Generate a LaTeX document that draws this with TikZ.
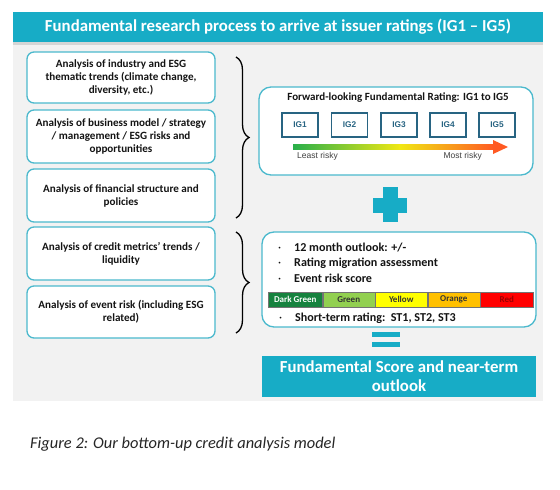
\documentclass[tikz,border=0pt]{standalone}
\usepackage{fontspec}
\setmainfont{Carlito}
\newfontfamily\arialf{Liberation Sans}
\usetikzlibrary{decorations.pathreplacing,shadows}
\definecolor{hdr}{RGB}{23,172,198}
\definecolor{bord}{RGB}{75,185,205}
\definecolor{bgg}{RGB}{242,242,242}
\definecolor{igb}{RGB}{40,100,130}
\definecolor{dkg}{RGB}{22,130,62}
\definecolor{lgr}{RGB}{146,208,80}
\definecolor{yel}{RGB}{255,255,0}
\definecolor{ora}{RGB}{255,192,0}
\definecolor{redc}{RGB}{255,0,0}
\definecolor{txt}{RGB}{20,20,20}
\definecolor{arrg}{RGB}{40,175,75}
\definecolor{arry}{RGB}{240,232,20}
\definecolor{arro}{RGB}{255,90,35}
\begin{document}
\begin{tikzpicture}[x=1pt,y=-1pt,
  lbox/.style={draw=bord, line width=1.3pt, rounded corners=7pt, fill=white,
    minimum width=188pt, align=center, inner sep=0pt, text=txt,
    font=\bfseries\fontsize{11.1}{13}\selectfont},
  rbox/.style={draw=bord, line width=1.3pt, rounded corners=12pt, fill=white,
    minimum width=274pt, inner sep=0pt},
  igbox/.style={draw=igb, line width=1.3pt, minimum width=36pt, minimum height=24pt,
    inner sep=0pt, text=igb, font=\arialf\bfseries\fontsize{8.3}{9}\selectfont},
  seg/.style={draw=black!55, line width=0.5pt, minimum height=15pt, inner sep=0pt,
    anchor=west, font=\bfseries\fontsize{9}{10}\selectfont},
  bul/.style={anchor=west, inner sep=0pt, text=txt,
    font=\bfseries\fontsize{12.1}{13}\selectfont},
  brc/.style={decorate, decoration={brace, amplitude=13pt}, line width=1.3pt},
  teal/.style={fill=hdr, draw=none}
]
\useasboundingbox (0,0) rectangle (560,490);
\fill[white] (0,0) rectangle (560,490);
\fill[bgg] (13,42) rectangle (543,401);

% header
\node[fill=hdr, minimum width=530pt, minimum height=30pt, inner sep=0pt, text=white,
  font=\bfseries\fontsize{16.8}{18}\selectfont,
  drop shadow={opacity=0.25, shadow xshift=0pt, shadow yshift=-3pt}]
  (hdr) at (278,27) {Fundamental research process to arrive at issuer ratings (IG1 – IG5)};

% left boxes
\node[lbox, minimum height=51pt] (a1) at (121,77.5) {Analysis of industry and ESG\\thematic trends (climate change,\\diversity, etc.)};
\node[lbox, minimum height=53pt] (a2) at (121,136.5) {Analysis of business model / strategy\\/ management / ESG risks and\\opportunities};
\node[lbox, minimum height=53pt] (a3) at (121,195.5) {Analysis of financial structure and\\policies};
\node[lbox, minimum height=53pt] (a4) at (121,253.5) {Analysis of credit metrics’ trends /\\liquidity};
\node[lbox, minimum height=52pt] (a5) at (121,312) {Analysis of event risk (including ESG\\related)};

% braces
\coordinate (b1t) at (236,57);
\coordinate (b1b) at (236,218);
\coordinate (b2t) at (236,232);
\coordinate (b2b) at (236,333);
\draw[brc] (b1t) -- (b1b);
\draw[brc] (b2t) -- (b2b);

% right box 1
\node[rbox, minimum height=88pt] (r1) at (396,131) {};
\node[inner sep=0pt, text=txt, font=\bfseries\fontsize{11}{12}\selectfont] (r1t) at (398,97.5) {Forward-looking Fundamental Rating: IG1 to IG5};
\node[igbox] (ig1) at (300,125) {IG1};
\node[igbox] (ig2) at (349.5,125) {IG2};
\node[igbox] (ig3) at (399,125) {IG3};
\node[igbox] (ig4) at (448,125) {IG4};
\node[igbox] (ig5) at (497,125) {IG5};
\shade[left color=arrg, right color=arry] (293,144.5) rectangle (400,149.5);
\shade[left color=arry, right color=arro] (399.5,144.5) rectangle (494,149.5);
\fill[arro] (493,140) -- (508,147) -- (493,154) -- cycle;
\node[anchor=west, inner sep=0pt, text=black!75, font=\arialf\fontsize{8.5}{10}\selectfont] (lr) at (297,156) {Least risky};
\node[anchor=east, inner sep=0pt, text=black!75, font=\arialf\fontsize{8.5}{10}\selectfont] (mr) at (482,156) {Most risky};

% plus
\fill[teal] (373,197.5) rectangle (407,212.5);
\fill[teal] (383,187) rectangle (398,222);

% right box 2
\node[rbox, minimum height=95pt] (r2) at (399,279.5) {};
\node[bul] (t1) at (278,248) {\makebox[16pt][l]{\mdseries\textperiodcentered}12 month outlook: +/-};
\node[bul] (t2) at (278,263) {\makebox[16pt][l]{\mdseries\textperiodcentered}Rating migration assessment};
\node[bul] (t3) at (278,278) {\makebox[16pt][l]{\mdseries\textperiodcentered}Event risk score};
\node[seg, fill=dkg, text=white, minimum width=54pt] (s1) at (268,299.5) {Dark Green};
\node[seg, fill=lgr, text=black!80, minimum width=52pt] (s2) at (s1.east) {Green};
\node[seg, fill=yel, text=black!80, minimum width=52pt] (s3) at (s2.east) {Yellow};
\node[seg, fill=ora, text=black!80, minimum width=52pt] (s4) at (s3.east) {Orange};
\node[seg, fill=redc, text=red!60!black, minimum width=53pt] (s5) at (s4.east) {Red};
\node[bul] (t4) at (279,318) {\makebox[16pt][l]{\mdseries\textperiodcentered}Short-term rating:\ \ ST1, ST2, ST3};

% equals
\fill[teal] (372,331.5) rectangle (400,337);
\fill[teal] (372,341.5) rectangle (400,347);

% bottom box
\node[fill=hdr, minimum width=274pt, minimum height=41pt, inner sep=0pt, text=white, align=center,
  font=\bfseries\fontsize{16.8}{19}\selectfont] (fs) at (399,376.5) {Fundamental Score and near-term\\outlook};

% caption
\node[anchor=west, inner sep=0pt, text=black!85, font=\itshape\fontsize{16.4}{19}\selectfont] (cap) at (30,444) {Figure 2: Our bottom-up credit analysis model};
\end{tikzpicture}
\end{document}
